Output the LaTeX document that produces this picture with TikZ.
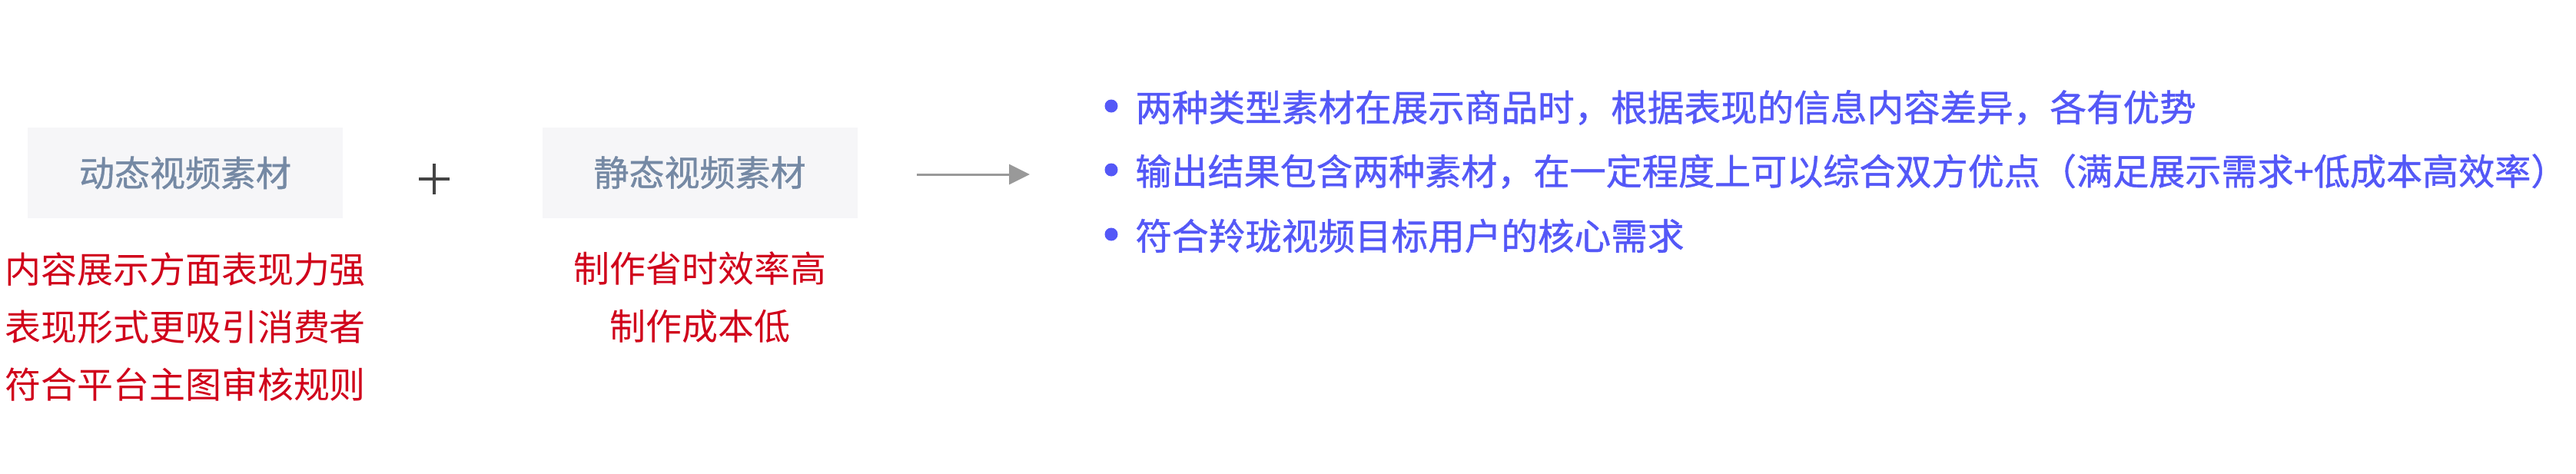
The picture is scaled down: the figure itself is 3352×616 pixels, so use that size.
\documentclass[tikz,border=0pt]{standalone}
\usepackage{fontspec}
\setmainfont{Noto Sans CJK SC}
\newfontfamily\medfont[RawFeature={embolden=0.9}]{Noto Sans CJK SC}
\newfontfamily\medhalt[RawFeature={embolden=0.9;+halt}]{Noto Sans CJK SC}
\usetikzlibrary{arrows.meta}
\definecolor{boxfill}{HTML}{F6F6F8}
\definecolor{boxtext}{HTML}{7589A4}
\definecolor{redtext}{HTML}{D0021B}
\definecolor{bluetext}{HTML}{5458F7}
\definecolor{arrowgray}{HTML}{999999}
\definecolor{plusgray}{HTML}{444444}
\tikzset{
  matbox/.style={fill=boxfill, draw=none, minimum width=205pt, minimum height=59pt, inner sep=0pt,
    text=boxtext, font=\medfont\fontsize{23pt}{23pt}\selectfont},
  redlist/.style={text=redtext, align=center, inner sep=0pt,
    font=\fontsize{23.5pt}{37.5pt}\selectfont},
  bullettext/.style={text=bluetext, anchor=west, inner sep=0pt,
    font=\medfont\fontsize{23.8pt}{23.8pt}\selectfont},
  bulletdot/.style={circle, fill=bluetext, inner sep=0pt, minimum size=8.5pt},
}
\begin{document}
\begin{tikzpicture}[x=0.5pt,y=-0.5pt]
\useasboundingbox (0,0) rectangle (3352,616);
% boxes
\node[matbox] (dyn) at (241,225) {动态视频素材};
\node[matbox] (sta) at (910.5,224.5) {静态视频素材};
% red lists
\node[redlist] (dynlist) at (241,425) {内容展示方面表现力强\\表现形式更吸引消费者\\符合平台主图审核规则};
\node[redlist] (stalist) at (911,387.5) {制作省时效率高\\制作成本低};
% plus
\coordinate (plusc) at (565,233);
\draw[plusgray, line width=2pt] ([xshift=-10pt]plusc) -- ([xshift=10pt]plusc);
\draw[plusgray, line width=2pt] ([yshift=10pt]plusc) -- ([yshift=-10pt]plusc);
% arrow
\coordinate (arrs) at (1193,227);
\coordinate (arre) at (1340,227);
\draw[arrowgray, line width=1.5pt, -{Triangle[length=13.5pt,width=13pt]}] (arrs) -- (arre);
% bullets
\node[bullettext] (b1) at (1477,140) {两种类型素材在展示商品时，根据表现的信息内容差异，各有优势};
\node[bullettext, font=\medfont\fontsize{23.55pt}{23.55pt}\selectfont] (b2) at (1477,223) {输出结果包含两种素材，在一定程度上可以综合双方优点（满足展示需求+低成本高效率{\medhalt ）}};
\node[bullettext] (b3) at (1477,307) {符合羚珑视频目标用户的核心需求};
\node[bulletdot] (d1) at (1446,138) {};
\node[bulletdot] (d2) at (1446,221) {};
\node[bulletdot] (d3) at (1446,305) {};
\end{tikzpicture}
\end{document}
